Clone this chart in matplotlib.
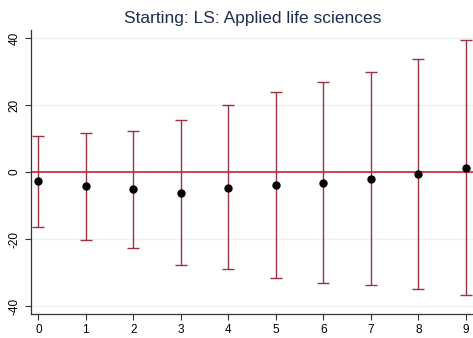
import matplotlib.pyplot as plt
import numpy as np

plt.rcParams['font.family'] = ['Liberation Sans', 'DejaVu Sans']

periods = [0, 1, 2, 3, 4, 5, 6, 7, 8, 9]
estimate = [-2.8, -4.3, -5.2, -6.2, -4.7, -4.0, -3.2, -2.1, -0.6, 1.3]
ci_upper = [10.9, 11.8, 12.4, 15.6, 19.9, 23.8, 26.9, 29.8, 33.8, 39.3]
ci_lower = [-16.4, -20.3, -22.6, -27.8, -29.0, -31.7, -33.1, -33.7, -35.0, -36.7]
yticks = [-40, -20, 0, 20, 40]

fig = plt.figure(figsize=(4.73, 3.38), dpi=100)
ax = fig.add_axes([0.065, 0.072, 0.935, 0.839])

est = np.array(estimate)
yerr = [est - np.array(ci_lower), np.array(ci_upper) - est]

for y in yticks:
    ax.axhline(y, color='#eaf0f2', lw=0.9, zorder=0)
ax.axhline(0, color='#c8102e', lw=1.1, zorder=1)
ax.errorbar(periods, est, yerr=yerr, fmt='none', ecolor='#9a3340',
            elinewidth=1.0, capsize=4, capthick=1.0, zorder=2)
ax.plot(periods, est, 'o', color='black', markersize=5, zorder=3)

ax.set_xlim(-0.16, 9.15)
ax.set_ylim(-42.3, 42.4)
ax.set_xticks(periods)
ax.set_yticks(yticks)
ax.set_yticklabels([str(v) for v in yticks], rotation=90, va='center')
ax.tick_params(labelsize=8.5, length=4, width=0.8, color='#333333')
for s in ['top', 'right']:
    ax.spines[s].set_visible(False)
for s in ['left', 'bottom']:
    ax.spines[s].set_color('#333333')
    ax.spines[s].set_linewidth(0.9)

fig.text(0.535, 0.945, 'Starting: LS: Applied life sciences', ha='center', va='center',
         fontsize=12.5, color='#1f2d4d')

fig.savefig('out.png', dpi=100)
